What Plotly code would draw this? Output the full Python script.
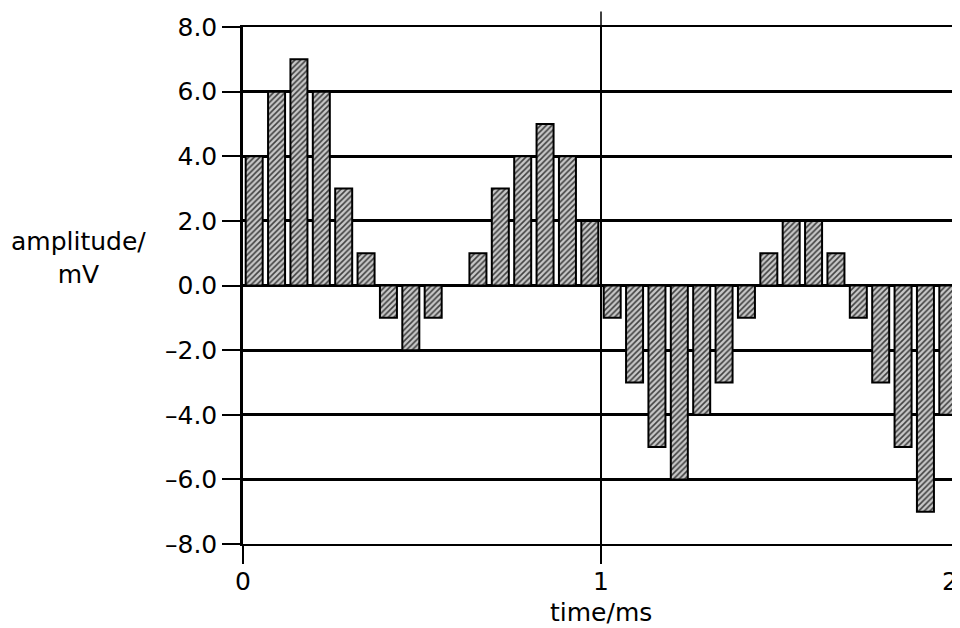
import plotly.graph_objects as go

# sample times (ms), centre of each 1/16 ms interval
time_ms = [0.03125, 0.09375, 0.15625, 0.21875, 0.28125, 0.34375, 0.40625, 0.46875,
           0.53125, 0.59375, 0.65625, 0.71875, 0.78125, 0.84375, 0.90625, 0.96875,
           1.03125, 1.09375, 1.15625, 1.21875, 1.28125, 1.34375, 1.40625, 1.46875,
           1.53125, 1.59375, 1.65625, 1.71875, 1.78125, 1.84375, 1.90625, 1.96875]
amplitude_mV = [4, 6, 7, 6, 3, 1, -1, -2, -1, 0, 1, 3, 4, 5, 4, 2,
                -1, -3, -5, -6, -4, -3, -1, 1, 2, 2, 1, -1, -3, -5, -7, -4]

y_tickvals = [8, 6, 4, 2, 0, -2, -4, -6, -8]
y_ticktext = ["8.0", "6.0", "4.0", "2.0", "0.0", "\u20132.0", "\u20134.0", "\u20136.0", "\u20138.0"]
x_tickvals = [0, 1, 2]
x_ticktext = ["0", "1", "2"]

FONT = "DejaVu Sans, Liberation Sans, Arial, sans-serif"

fig = go.Figure()
fig.add_trace(go.Bar(
    x=time_ms, y=amplitude_mV, width=0.0475,
    marker=dict(color="#c0c0c0",
                line=dict(color="black", width=2),
                pattern=dict(shape="/", fgcolor="#404040", bgcolor="#c8c8c8",
                             size=4, solidity=0.4)),
    showlegend=False,
))

fig.update_layout(
    template="none",
    width=952, height=620,
    margin=dict(l=235, r=1, t=19, b=84),
    paper_bgcolor="white", plot_bgcolor="white",
    font=dict(family=FONT, size=25, color="black"),
    xaxis=dict(range=[0, 2], tickvals=x_tickvals,
               ticktext=x_ticktext[:-1] + [""],
               showgrid=True, gridcolor="black", gridwidth=1.5,
               showline=True, linecolor="black", linewidth=2, mirror=True,
               ticks="outside", ticklen=18, tickwidth=1.5, tickcolor="black",
               zeroline=False, automargin=False,
               ticklabelstandoff=-4,
               tickfont=dict(size=25)),
    yaxis=dict(range=[-8, 8], tickvals=y_tickvals, ticktext=y_ticktext,
               showgrid=True, gridcolor="black", gridwidth=2.5,
               showline=True, linecolor="black", linewidth=2.5, mirror=True,
               ticks="outside", ticklen=18, tickwidth=1.5, tickcolor="black",
               zeroline=True, zerolinecolor="black", zerolinewidth=2.5,
               automargin=False, tickfont=dict(size=25)),
    annotations=[
        dict(text="amplitude/<br>mV", xref="paper", yref="paper", x=-0.23, y=0.553,
             xanchor="center", yanchor="middle", showarrow=False, align="center",
             font=dict(size=25)),
        dict(text="time/ms", xref="x", yref="paper", x=1.0, y=-0.132,
             xanchor="center", yanchor="middle", showarrow=False,
             font=dict(size=25)),
        # last x tick label, kept inside the page edge
        dict(text=x_ticktext[-1], xref="x", yref="paper", x=x_tickvals[-1], y=-0.072,
             xanchor="right", yanchor="middle", showarrow=False, xshift=1,
             font=dict(size=25)),
    ],
    shapes=[dict(type="line", xref="x", yref="paper", x0=1, x1=1, y0=1, y1=1.03,
                 line=dict(color="black", width=1.5))],
)

fig.write_html("out.html")
